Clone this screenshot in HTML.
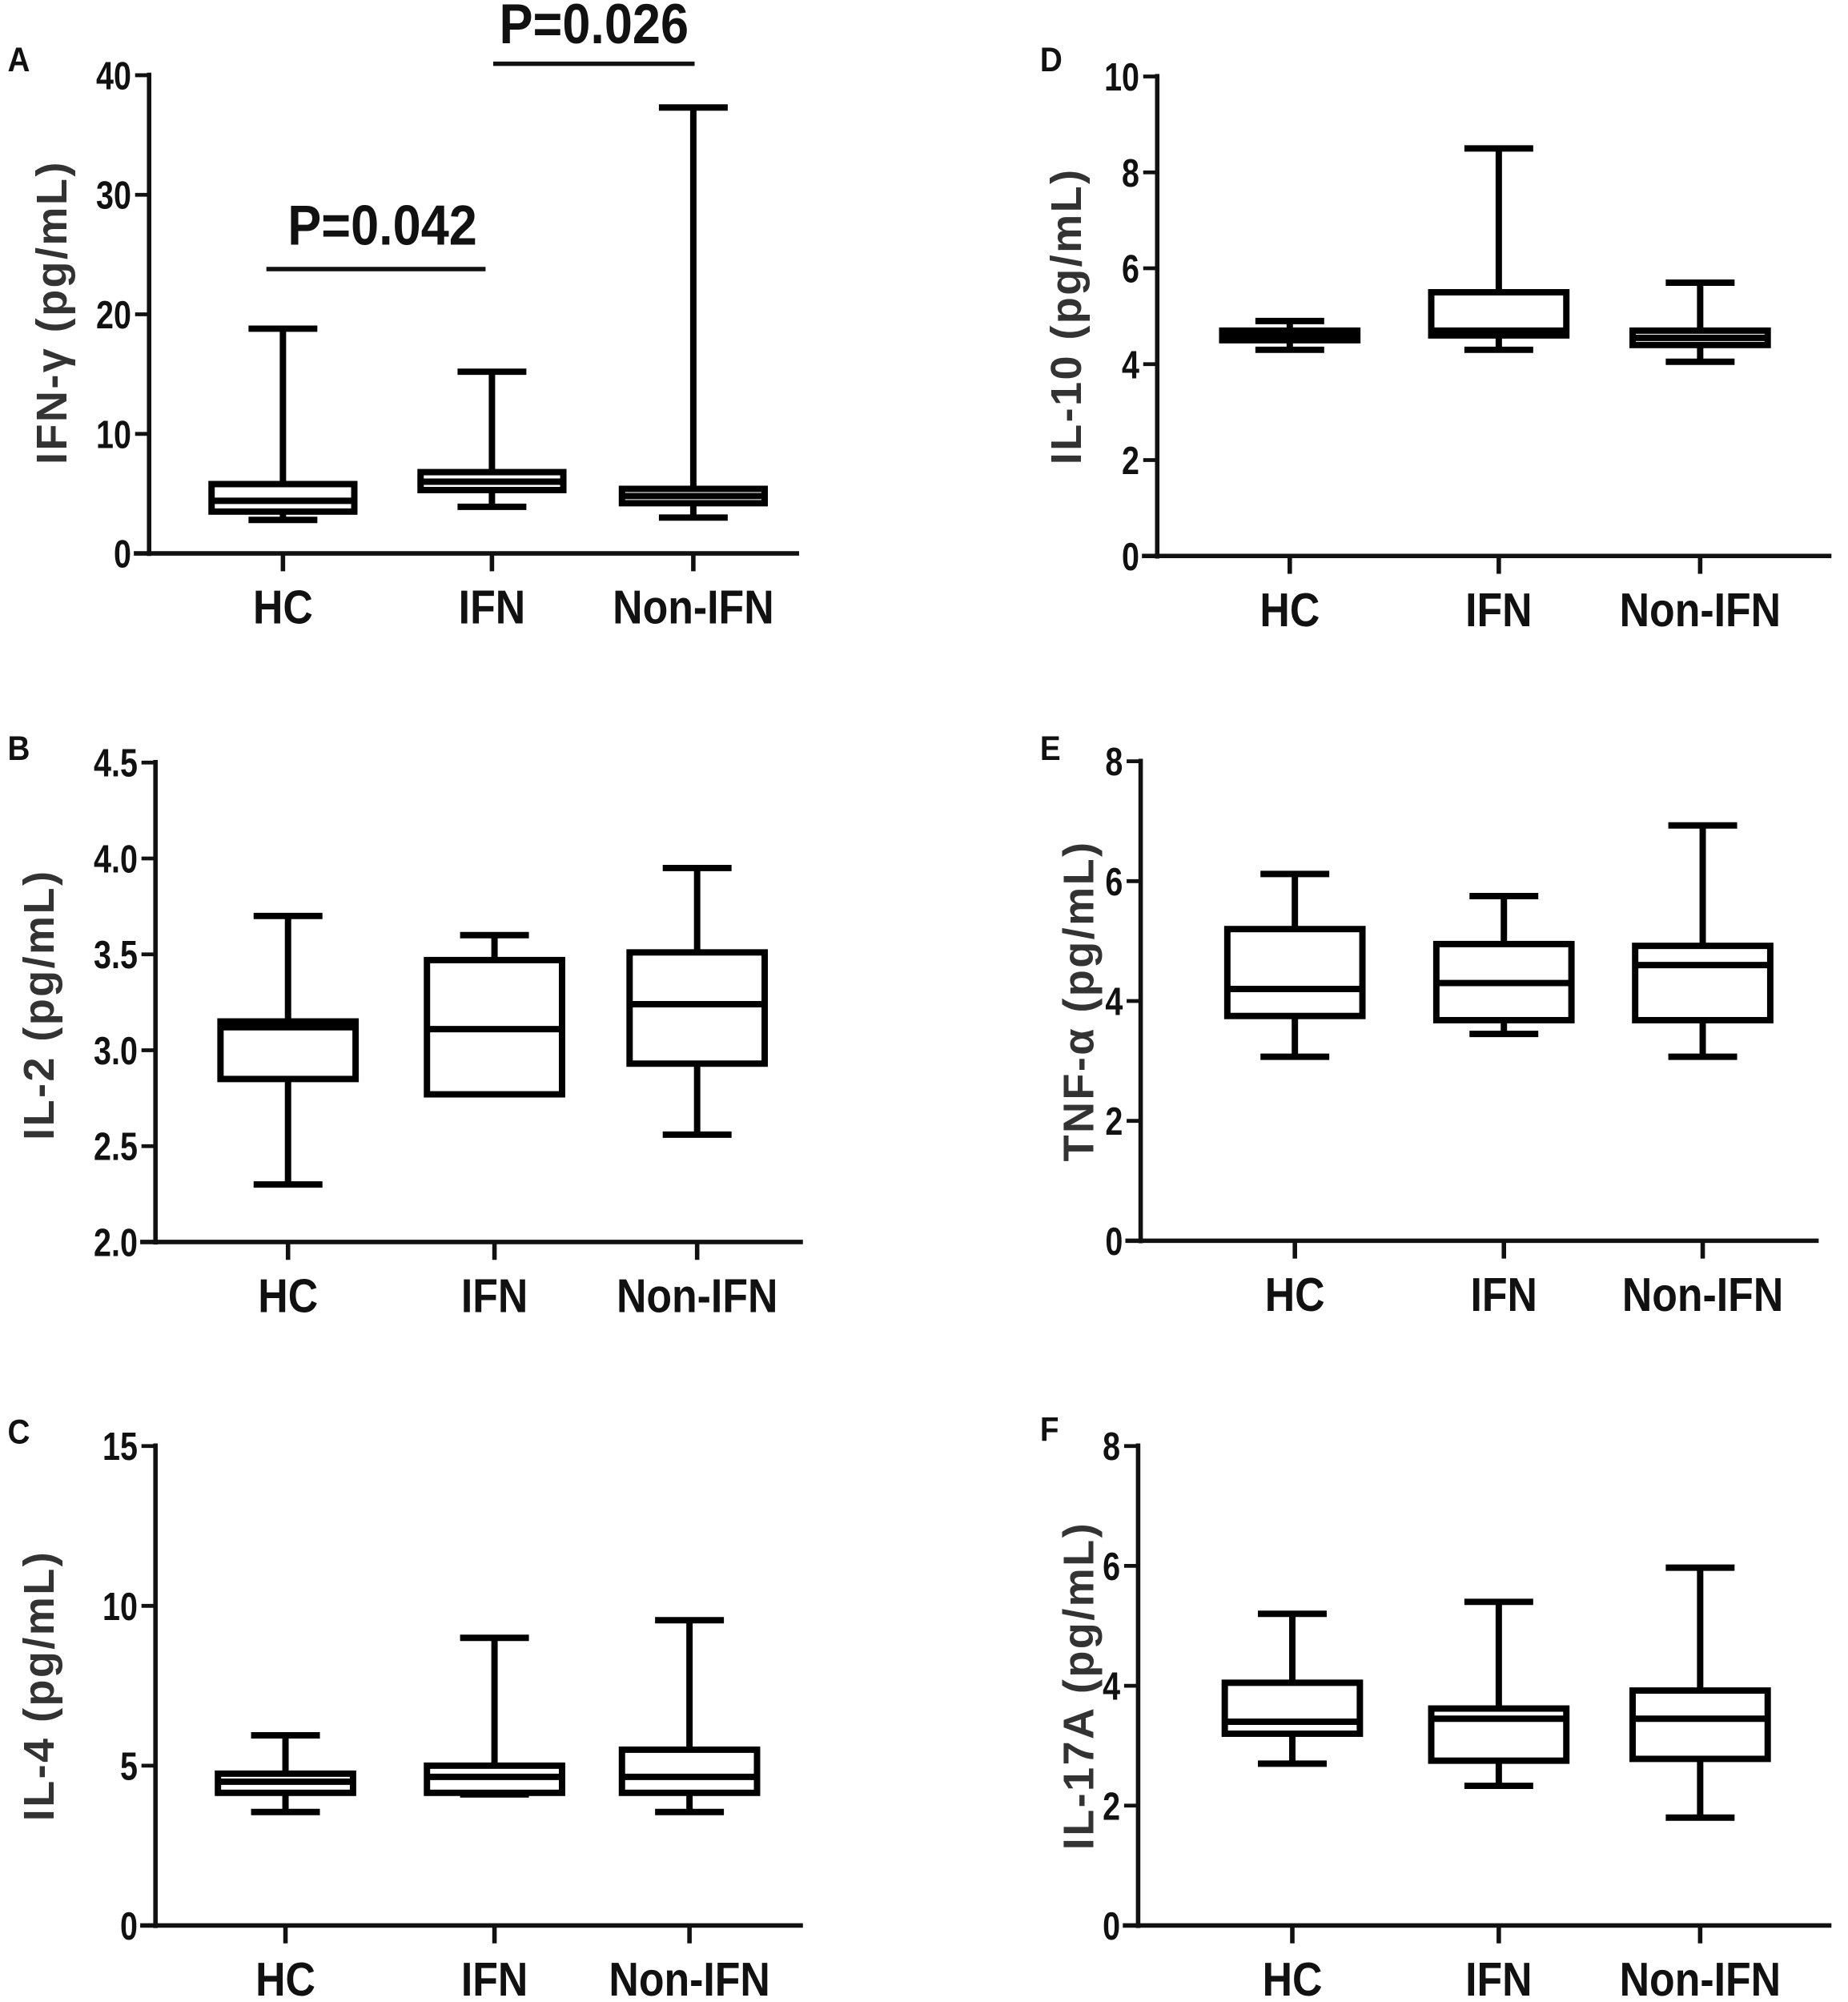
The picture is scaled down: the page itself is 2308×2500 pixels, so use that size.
<!DOCTYPE html>
<html><head><meta charset="utf-8"><style>
html,body{margin:0;padding:0;background:#fff}
svg{display:block}
.tk{font-family:"Liberation Sans",sans-serif;font-weight:bold;font-size:31px;fill:#111}
.cat{font-family:"Liberation Sans",sans-serif;font-weight:bold;font-size:37px;fill:#111}
.yl{font-family:"Liberation Sans",sans-serif;font-weight:bold;font-size:34px;fill:#333;letter-spacing:1.5px}
.pl{font-family:"Liberation Sans",sans-serif;font-weight:bold;font-size:27px;fill:#111}
.pv{font-family:"Liberation Sans",sans-serif;font-weight:bold;font-size:44px;fill:#111}
</style></head><body>
<svg id="fig" width="2308" height="2500" viewBox="0 0 1450 1570" preserveAspectRatio="none" xmlns="http://www.w3.org/2000/svg"></svg>
<script>
const categories = ["HC","IFN","Non-IFN"];
// [min, q1, median, q3, max] per category
const ifngStats = [[2.8,3.5,4.4,5.8,18.8],[3.9,5.3,6.0,6.8,15.2],[3.0,4.2,4.8,5.4,37.3]];
const il2Stats = [[2.3,2.85,3.12,3.15,3.7],[2.77,2.77,3.11,3.47,3.6],[2.56,2.93,3.24,3.51,3.95]];
const il4Stats = [[3.55,4.15,4.5,4.75,5.95],[4.1,4.15,4.65,5.0,9.0],[3.55,4.15,4.65,5.5,9.55]];
const il10Stats = [[4.3,4.5,4.6,4.7,4.9],[4.3,4.6,4.7,5.5,8.5],[4.05,4.4,4.55,4.7,5.7]];
const tnfStats = [[3.07,3.75,4.2,5.2,6.12],[3.45,3.68,4.3,4.95,5.75],[3.07,3.68,4.6,4.92,6.93]];
const il17Stats = [[2.7,3.2,3.4,4.05,5.2],[2.33,2.75,3.45,3.62,5.4],[1.8,2.78,3.45,3.92,5.97]];
const ticksA = ["0","10","20","30","40"];
const ticksB = ["2.0","2.5","3.0","3.5","4.0","4.5"];
const ticksC = ["0","5","10","15"];
const ticksD = ["0","2","4","6","8","10"];
const ticksE = ["0","2","4","6","8"];
const ticksF = ["0","2","4","6","8"];
const pValues = ["P=0.042","P=0.026"];

const NS="http://www.w3.org/2000/svg";
const svg=document.getElementById('fig');
function mk(tag,attrs,parent){const e=document.createElementNS(NS,tag);for(const k in attrs)e.setAttribute(k,attrs[k]);(parent||svg).appendChild(e);return e;}
function txt(parent,x,y,cls,anchor,sx,str){
  const t=mk('text',{x:0,y:0,class:cls,'text-anchor':anchor,transform:`translate(${x} ${y}) scale(${sx} 1)`},parent);
  t.textContent=str;return t;
}

const panels=[
 {id:'a',letter:'A',lx:6,ly:56,ax:117,y0:434,y1:59,xEnd:627,cx:[222,386,544],ticks:ticksA,label:'IFN-γ (pg/mL)',ylx:40,yly:245,stats:ifngStats,hw:56},
 {id:'b',letter:'B',lx:6,ly:596,ax:122,y0:974,y1:598,xEnd:630,cx:[226,388,547],ticks:ticksB,label:'IL-2 (pg/mL)',ylx:30,yly:788,stats:il2Stats,hw:53},
 {id:'c',letter:'C',lx:6,ly:1132,ax:122,y0:1510,y1:1134,xEnd:630,cx:[224,388,541],ticks:ticksC,label:'IL-4 (pg/mL)',ylx:30,yly:1322,stats:il4Stats,hw:53},
 {id:'d',letter:'D',lx:816,ly:56,ax:908,y0:436,y1:60,xEnd:1437,cx:[1012,1176,1334],ticks:ticksD,label:'IL-10 (pg/mL)',ylx:836,yly:248,stats:il10Stats,hw:53},
 {id:'e',letter:'E',lx:816,ly:596,ax:895,y0:973,y1:597,xEnd:1427,cx:[1016,1180,1336],ticks:ticksE,label:'TNF-α (pg/mL)',ylx:846,yly:785,stats:tnfStats,hw:53},
 {id:'f',letter:'F',lx:816,ly:1130,ax:893,y0:1510,y1:1134,xEnd:1437,cx:[1014,1176,1334],ticks:ticksF,label:'IL-17A (pg/mL)',ylx:846,yly:1322,stats:il17Stats,hw:53}
];

panels.forEach(p=>{
  const g=mk('g',{});
  
  
  const vmin=parseFloat(p.ticks[0]), vmax=parseFloat(p.ticks[p.ticks.length-1]);
  const y=v=>p.y0+(v-vmin)/(vmax-vmin)*(p.y1-p.y0);
  const L=txt(g,p.lx,p.ly,'pl','start',0.9,p.letter);
  
  
  const ya=mk('line',{x1:p.ax,y1:p.y1-2,x2:p.ax,y2:p.y0+2,stroke:'#111','stroke-width':3.5},g);
  
  
  const xa=mk('line',{x1:p.ax-12,y1:p.y0,x2:p.xEnd,y2:p.y0,stroke:'#111','stroke-width':3.5},g);
  
  
  p.ticks.forEach(t=>{
    const v=parseFloat(t),yy=y(v);
    mk('line',{x1:p.ax-11,y1:yy,x2:p.ax,y2:yy,stroke:'#111','stroke-width':3},g);
    const tt=txt(g,p.ax-14,yy+11,'tk','end',0.8,t);
    
    
  });
  const yl=mk('text',{x:p.ylx,y:p.yly,class:'yl','text-anchor':'middle',transform:`rotate(-90 ${p.ylx} ${p.yly})`,dy:12},g);
  yl.textContent=p.label;
  
  
  categories.forEach((c,i)=>{
    const cx=p.cx[i];
    mk('line',{x1:cx,y1:p.y0,x2:cx,y2:p.y0+14,stroke:'#111','stroke-width':3.5},g);
    const ct=txt(g,cx,p.y0+55,'cat','middle',0.88,c);
    
    
    const s=p.stats[i];
    const bg=mk('g',{stroke:'#000','stroke-width':5,fill:'none'},g);
    
    
    mk('line',{x1:cx,y1:y(s[4]),x2:cx,y2:y(s[3])},bg);
    mk('line',{x1:cx,y1:y(s[0]),x2:cx,y2:y(s[1])},bg);
    mk('line',{x1:cx-27,y1:y(s[4]),x2:cx+27,y2:y(s[4])},bg);
    mk('line',{x1:cx-27,y1:y(s[0]),x2:cx+27,y2:y(s[0])},bg);
    mk('rect',{x:cx-p.hw,y:y(s[3]),width:2*p.hw,height:Math.max(0.5,y(s[1])-y(s[3])),fill:'#fff'},bg);
    mk('line',{x1:cx-p.hw,y1:y(s[2]),x2:cx+p.hw,y2:y(s[2])},bg);
  });
  if(p.id==='a'){
    const s1=mk('line',{x1:209,y1:211,x2:381,y2:211,stroke:'#111','stroke-width':3.5},g);
    
    
    const t1=txt(g,300,192,'pv','middle',0.9,pValues[0]);
    
    
    const s2=mk('line',{x1:387,y1:50,x2:545,y2:50,stroke:'#111','stroke-width':3.5},g);
    
    
    const t2=txt(g,466,34,'pv','middle',0.9,pValues[1]);
    
    
  }
});
</script>
</body></html>
